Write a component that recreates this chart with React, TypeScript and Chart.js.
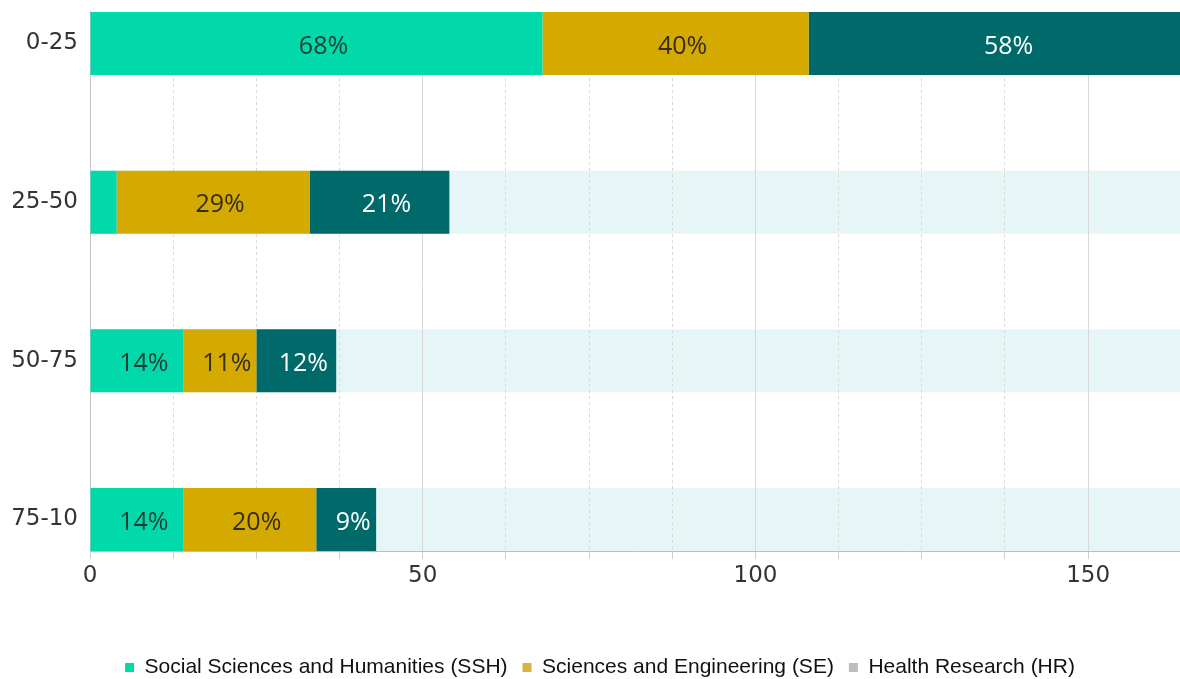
import React, { useEffect, useRef } from 'react';
import { Chart, registerables } from 'chart.js';

Chart.register(...registerables);

const categories = ['0-25', '25-50', '50-75', '75-10'];
const sshValues = [68, 4, 14, 14];
const seValues = [40, 29, 11, 20];
const hrValues = [58, 21, 12, 9];
const seriesNames = [
  'Social Sciences and Humanities (SSH)',
  'Sciences and Engineering (SE)',
  'Health Research (HR)',
];
const xTickLabels = [0, 50, 100, 150];

const barColors = ['#02D9AA', '#D4A900', '#00696A'];
const legendColors = ['#02D9AA', '#D9B340', '#BDBDBD'];
const labelColors = ['#1F3D35', '#352E12', '#FFFFFF'];
const bandColor = '#E6F6F6';
const FONT = '"DejaVu Sans", sans-serif';
const LABEL_FONT = '"Open Sans", sans-serif';

const bandPlugin = {
  id: 'bandPlugin',
  beforeDraw(chart: any) {
    const meta = chart.getDatasetMeta(0);
    const { ctx, chartArea } = chart;
    ctx.save();
    ctx.fillStyle = bandColor;
    meta.data.forEach((el: any) => {
      const h = el.height;
      ctx.fillRect(chartArea.left, el.y - h / 2, chartArea.right - chartArea.left, h);
    });
    ctx.restore();
  },
};

const labelPlugin = {
  id: 'labelPlugin',
  afterDatasetsDraw(chart: any) {
    const { ctx } = chart;
    ctx.save();
    ctx.font = `500 25px ${LABEL_FONT}`;
    ctx.textAlign = 'center';
    ctx.textBaseline = 'middle';
    chart.data.datasets.forEach((ds: any, di: number) => {
      const meta = chart.getDatasetMeta(di);
      meta.data.forEach((el: any, i: number) => {
        const w = Math.abs(el.x - el.base);
        if (w < 30) return;
        const v = ds.data[i].x;
        ctx.fillStyle = labelColors[di];
        ctx.fillText(`${v}%`, (el.x + el.base) / 2 + 7, el.y + 3);
      });
    });
    ctx.restore();
  },
};

const legendShiftPlugin = {
  id: 'legendShift',
  afterLayout(chart: any) {
    if (chart.legend) chart.legend.left += 20;
  },
};

export default function App() {
  const ref = useRef<HTMLCanvasElement>(null);

  useEffect(() => {
    if (!ref.current) return;
    const seriesValues = [sshValues, seValues, hrValues];
    const chart = new Chart(ref.current, {
      type: 'bar',
      data: {
        datasets: seriesValues.map((vals, di) => ({
          label: seriesNames[di],
          data: vals.map((v, i) => ({ x: v, y: i })),
          backgroundColor: barColors[di],
          borderWidth: 0,
          categoryPercentage: 1,
          barPercentage: 0.397,
        })),
      },
      options: {
        indexAxis: 'y',
        animation: false,
        responsive: true,
        maintainAspectRatio: false,
        events: [],
        layout: { padding: { top: 0, right: 0, left: 0, bottom: 0 } },
        scales: {
          x: {
            type: 'linear',
            stacked: true,
            min: 0,
            max: 163.8,
            ticks: {
              stepSize: 12.5,
              autoSkip: false,
              maxRotation: 0,
              padding: 0,
              color: '#333333',
              font: { family: FONT, size: 23, lineHeight: 1.5 },
              callback: (v: any) => (xTickLabels.includes(Number(v)) ? String(v) : ''),
            },
            grid: {
              color: '#D8D8D8',
              tickColor: '#CFCFCF',
              tickLength: 8,
            },
            border: {
              display: true,
              color: '#BDBDBD',
              dash: (c: any) =>
                !c.tick || xTickLabels.includes(c.tick.value) ? [] : [3, 3],
            },
            afterFit: (scale: any) => {
              scale.height = 91;
            },
          },
          y: {
            type: 'linear',
            stacked: true,
            reverse: true,
            offset: false,
            min: -0.1985,
            max: 3.1985,
            afterBuildTicks: (scale: any) => {
              scale.ticks = categories.map((_, i) => ({ value: i }));
            },
            ticks: {
              padding: 0,
              color: '#333333',
              font: { family: FONT, size: 23, lineHeight: 1.04 },
              callback: (v: any) => categories[Number(v)] ?? '',
            },
            grid: {
              display: true,
              drawOnChartArea: false,
              drawTicks: true,
              tickLength: 12,
              tickColor: 'rgba(0,0,0,0)',
              color: 'rgba(0,0,0,0)',
              offset: false,
            },
            border: { display: true, color: '#C4C4C4' },
            afterFit: (scale: any) => {
              scale.width = 90;
            },
          },
        },
        plugins: {
          tooltip: { enabled: false },
          legend: {
            position: 'bottom',
            labels: {
              boxWidth: 9,
              boxHeight: 9,
              padding: 15,
              color: '#111111',
              font: { family: '"Liberation Sans", Arial, sans-serif', size: 21 },
              generateLabels: (ch: any) => {
                const items = Chart.defaults.plugins.legend.labels.generateLabels(ch);
                return items.map((it: any, i: number) => ({
                  ...it,
                  fillStyle: legendColors[i],
                  strokeStyle: legendColors[i],
                  lineWidth: 0,
                }));
              },
            },
          },
        },
      },
      plugins: [bandPlugin, labelPlugin, legendShiftPlugin],
    } as any);
    return () => chart.destroy();
  }, []);

  return (
    <div style={{ position: 'absolute', left: 0, top: 0, width: 1180, height: 679, overflow: 'hidden' }}>
      <div style={{ position: 'relative', width: 1180, height: 688 }}>
        <canvas ref={ref} />
      </div>
    </div>
  );
}
